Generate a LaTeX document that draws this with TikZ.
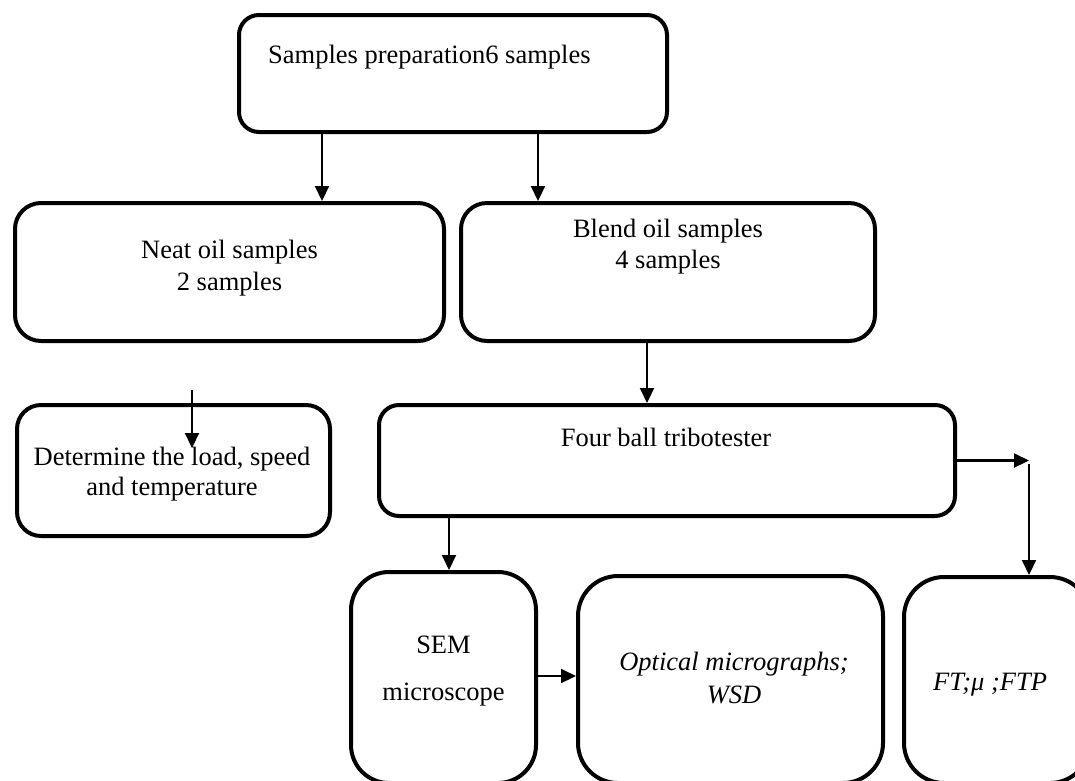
\documentclass[tikz,border=0pt]{standalone}
\usepackage{fontspec}
\setmainfont{Liberation Serif}
\usetikzlibrary{arrows.meta}
\begin{document}
\begin{tikzpicture}[x=1pt,y=-1pt,
  box/.style={draw,line width=4pt,rectangle,inner sep=0pt},
  txt/.style={font=\fontsize{26.5}{31}\selectfont,inner sep=0pt,anchor=base,align=center},
  conn/.style={line width=2.1pt,-{Triangle[length=15pt,width=14pt]}}]
\useasboundingbox (0,0) rectangle (1075,780);

% boxes
\node[box,rounded corners=20pt,minimum width=428pt,minimum height=117pt] (prep) at (453,73.5) {};
\node[box,rounded corners=26pt,minimum width=429pt,minimum height=138pt] (neat) at (229.5,272) {};
\node[box,rounded corners=26pt,minimum width=414pt,minimum height=138pt] (blend) at (668,272) {};
\node[box,rounded corners=24pt,minimum width=313pt,minimum height=131pt] (det) at (173.5,470.5) {};
\node[box,rounded corners=20pt,minimum width=576pt,minimum height=111pt] (four) at (667,460.5) {};
\node[box,rounded corners=38pt,minimum width=185pt,minimum height=211pt] (sem) at (443.5,677.5) {};
\node[box,rounded corners=40pt,minimum width=305pt,minimum height=207pt] (opt) at (730.5,679.5) {};
\node[box,rounded corners=40pt,minimum width=186pt,minimum height=206pt] (ft) at (997,680) {};

% texts (base anchor = baseline of the last line)
\node[txt,anchor=base west] (tprep) at (268,63) {Samples preparation6 samples};
\node[txt] (tneat) at (229.5,290) {Neat oil samples\\[1pt]2 samples};
\node[txt] (tblend) at (668,268) {Blend oil samples\\4 samples};
\node[txt] (tdet) at (172,495) {Determine the load, speed\\[-1pt]and temperature};
\node[txt] (tfour) at (666,446) {Four ball tribotester};
\node[txt] (tsem) at (443.5,700) {SEM\\[16pt]microscope};
\node[txt,font=\fontsize{26.5}{31}\selectfont\itshape] (topt) at (734,703) {Optical micrographs;\\[2pt]WSD};
\node[txt,font=\fontsize{26.5}{31}\selectfont\itshape] (tft) at (990,690) {FT;μ ;FTP};

% helper coordinates
\coordinate (xa) at (322,0);
\coordinate (xb) at (538,0);
\coordinate (xc) at (647,0);
\coordinate (xd) at (449,0);
\coordinate (ya) at (0,676);
\coordinate (d1) at (192,390);
\coordinate (d2) at (192,448);
\coordinate (r1) at (1029,460.5);
\coordinate (r2) at (1029,464);

% connectors
\draw[conn] (prep.south -| xa) -- (neat.north -| xa);
\draw[conn] (prep.south -| xb) -- (blend.north -| xb);
\draw[conn] (blend.south -| xc) -- (four.north -| xc);
\draw[conn] (d1) -- (d2);
\draw[conn] (four.south -| xd) -- (sem.north -| xd);
\draw[conn] (four.east) -- (r1);
\draw[conn] (r2) -- (ft.north -| r2);
\draw[conn] (sem.east |- ya) -- (opt.west |- ya);
\end{tikzpicture}
\end{document}
